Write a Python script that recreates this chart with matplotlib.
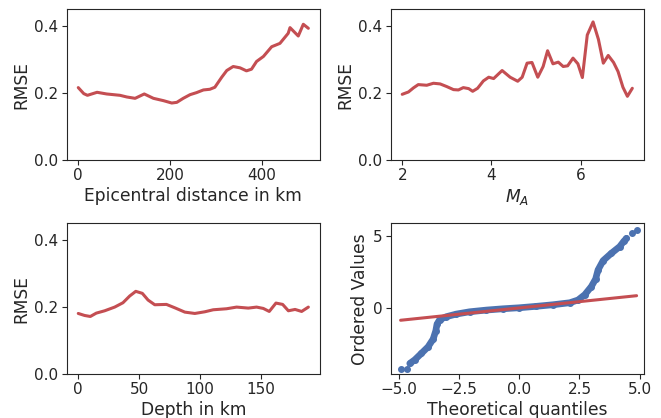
import matplotlib

matplotlib.use("Agg")
import matplotlib.pyplot as plt
import seaborn as sns

# RMSE vs epicentral distance
dist_km = [0, 12, 20, 41, 62, 91, 106, 124, 144, 164, 186, 204, 215, 229, 244,
           258, 273, 287, 298, 313, 324, 338, 353, 367, 378, 389, 404, 422, 440,
           458, 462, 480, 491, 502]
dist_rmse = [0.216, 0.198, 0.193, 0.202, 0.197, 0.193, 0.188, 0.184, 0.197,
             0.184, 0.177, 0.170, 0.172, 0.184, 0.195, 0.201, 0.209, 0.211,
             0.217, 0.247, 0.267, 0.279, 0.275, 0.266, 0.271, 0.294, 0.309,
             0.338, 0.348, 0.378, 0.395, 0.370, 0.405, 0.393]

# RMSE vs magnitude
mag = [2.0, 2.14, 2.25, 2.36, 2.55, 2.70, 2.85, 3.0, 3.15, 3.26, 3.37, 3.49,
       3.58, 3.69, 3.82, 3.94, 4.05, 4.24, 4.42, 4.59, 4.69, 4.80, 4.91, 5.04,
       5.16, 5.26, 5.38, 5.50, 5.61, 5.71, 5.83, 5.94, 6.04, 6.15, 6.28, 6.40,
       6.51, 6.62, 6.74, 6.84, 6.95, 7.05, 7.16]
mag_rmse = [0.196, 0.203, 0.215, 0.225, 0.223, 0.229, 0.227, 0.219, 0.210,
            0.209, 0.216, 0.213, 0.205, 0.214, 0.236, 0.247, 0.243, 0.267,
            0.247, 0.235, 0.247, 0.289, 0.291, 0.247, 0.279, 0.326, 0.287,
            0.292, 0.279, 0.281, 0.304, 0.287, 0.246, 0.373, 0.412, 0.360,
            0.289, 0.312, 0.291, 0.264, 0.217, 0.190, 0.214]

# RMSE vs depth
depth_km = [0, 5.2, 9.9, 14.8, 21.7, 29.9, 36.7, 42.2, 47.2, 52.6, 57.3, 62.8,
            72.4, 79.2, 87.5, 95.7, 103.9, 110.8, 121.7, 130.0, 139.6, 146.4,
            151.9, 156.8, 162.3, 167.8, 172.5, 178.0, 183.4, 188.9]
depth_rmse = [0.181, 0.175, 0.172, 0.182, 0.189, 0.200, 0.213, 0.233, 0.247,
              0.241, 0.221, 0.207, 0.208, 0.198, 0.185, 0.181, 0.186, 0.192,
              0.195, 0.200, 0.197, 0.200, 0.196, 0.187, 0.212, 0.208, 0.189,
              0.193, 0.187, 0.200]

# Q-Q plot of residuals
qq_theory = [-4.54, -4.33, -4.06, -3.78, -3.57, -3.46, -3.41,
             -3.30, -3.02, -2.61, -2.06, -1.36, -0.67, 0.0, 0.71, 1.40, 2.10,
             2.44, 2.72, 2.99, 3.17, 3.27, 3.48, 3.82, 4.17, 4.34, 4.45]
qq_ordered = [-3.86, -3.60, -3.16, -2.70, -2.16, -1.58, -1.12,
              -0.81, -0.60, -0.42, -0.26, -0.14, -0.05, 0.02, 0.12, 0.23, 0.37,
              0.56, 0.93, 1.49, 2.02, 2.65, 3.30, 3.81, 4.28, 4.65, 4.85]
qq_outlier_x = [-4.92, -4.65, 4.66, 4.87]
qq_outlier_y = [-4.21, -4.21, 5.20, 5.40]
fit_x = [-4.92, 4.87]
fit_y = [-0.85, 0.86]

RED = "#c44e52"
BLUE = "#4c72b0"

sns.set_style("ticks")
plt.rcParams["font.family"] = ["DejaVu Sans"]
plt.rcParams["xtick.labelsize"] = 11
plt.rcParams["ytick.labelsize"] = 11
plt.rcParams["axes.labelsize"] = 12.3
plt.rcParams["xtick.major.size"] = 3.5
plt.rcParams["ytick.major.size"] = 3.5
plt.rcParams["xtick.major.pad"] = 2.5
plt.rcParams["ytick.major.pad"] = 2.5
plt.rcParams["axes.labelpad"] = 2.5

fig, axes = plt.subplots(2, 2, figsize=(6.61, 4.18), dpi=100)
fig.subplots_adjust(left=0.101, right=0.974, top=0.978, bottom=0.105,
                    wspace=0.28, hspace=0.42)

ax = axes[0, 0]
ax.plot(dist_km, dist_rmse, color=RED, lw=2.2)
ax.set_ylim(0, 0.45)
ax.set_yticks([0.0, 0.2, 0.4])
ax.set_xticks([0, 200, 400])
ax.set_xlabel("Epicentral distance in km")
ax.set_ylabel("RMSE")

ax = axes[0, 1]
ax.plot(mag, mag_rmse, color=RED, lw=2.2)
ax.set_ylim(0, 0.45)
ax.set_yticks([0.0, 0.2, 0.4])
ax.set_xticks([2, 4, 6])
ax.set_xlabel("$M_A$")
ax.set_ylabel("RMSE")

ax = axes[1, 0]
ax.plot(depth_km, depth_rmse, color=RED, lw=2.2)
ax.set_ylim(0, 0.45)
ax.set_yticks([0.0, 0.2, 0.4])
ax.set_xticks([0, 50, 100, 150])
ax.set_xlabel("Depth in km")
ax.set_ylabel("RMSE")

ax = axes[1, 1]
ax.plot(qq_theory, qq_ordered, color=BLUE, lw=4.8, marker="o", ms=4,
        solid_capstyle="round", solid_joinstyle="round")
ax.plot(qq_outlier_x, qq_outlier_y, color=BLUE, ls="none", marker="o", ms=4)
ax.plot(fit_x, fit_y, color=RED, lw=2.2)
ax.set_xticks([-5.0, -2.5, 0.0, 2.5, 5.0])
ax.set_yticks([0, 5])
ax.set_xlim(-5.33, 5.17)
ax.set_ylim(-4.6, 5.9)
ax.set_xlabel("Theoretical quantiles")
ax.set_ylabel("Ordered Values")

fig.savefig("out.png", dpi=100)
